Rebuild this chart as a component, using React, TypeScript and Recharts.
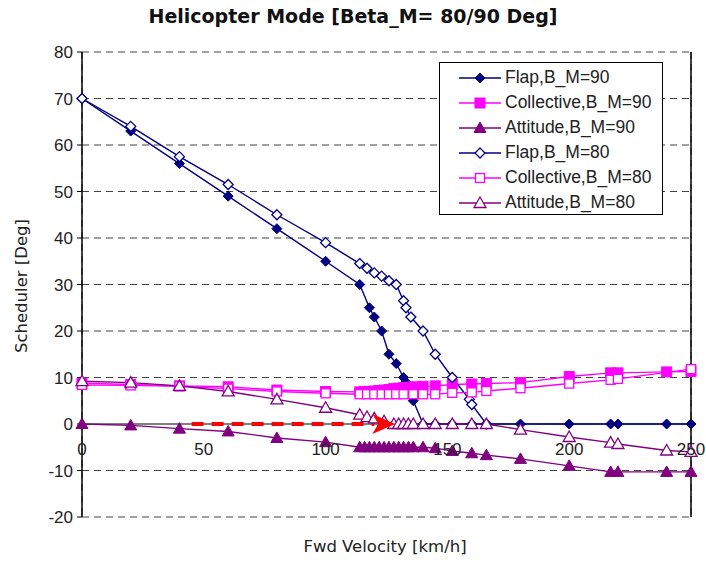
import {
  LineChart,
  Line,
  XAxis,
  YAxis,
  CartesianGrid,
  ReferenceLine,
  ReferenceDot,
  Legend,
} from "recharts";

// [speed km/h, deg]
const flap90 = [
  [0, 70], [20, 63], [40, 56], [60, 49], [80, 42], [100, 35], [114, 30], [118, 25],
  [120, 23], [123, 20], [126, 15], [129, 13], [132, 10], [133, 9], [136, 5], [140, 0],
  [145, 0], [152, 0], [160, 0], [166, 0], [180, 0], [200, 0], [217, 0], [220, 0],
  [240, 0], [250, 0],
];
const collective90 = [
  [0, 8.8], [20, 8.5], [40, 8.2], [60, 8], [80, 7.3], [100, 7], [114, 6.9], [116, 7],
  [118, 7], [120, 7.1], [122, 7.2], [124, 7.3], [126, 7.4], [128, 7.6], [130, 7.7],
  [132, 7.8], [134, 7.9], [136, 8], [140, 8.1], [145, 8.2], [152, 8.5], [160, 8.6],
  [166, 8.7], [180, 8.9], [200, 10.2], [217, 11], [220, 11], [240, 11.2], [250, 11.3],
];
const attitude90 = [
  [0, 0], [20, -0.3], [40, -1], [60, -1.6], [80, -3], [100, -3.9], [114, -5], [116, -5],
  [118, -5], [120, -5], [122, -5], [124, -5], [126, -5], [128, -5], [130, -5], [132, -5],
  [134, -5], [136, -5], [140, -5], [145, -5.2], [152, -5.8], [160, -6.3], [166, -6.7],
  [180, -7.5], [200, -9], [217, -10.3], [220, -10.3], [240, -10.3], [250, -10.3],
];
const flap80 = [
  [0, 70], [20, 64], [40, 57.5], [60, 51.5], [80, 45], [100, 39], [114, 34.5],
  [117, 33.5], [120, 32.5], [123, 31.8], [126, 30.8], [129, 30], [132, 26.5], [133, 25],
  [135, 23], [140, 20], [145, 15], [152, 10], [159, 5.3], [160, 4.2], [166, 0],
];
const collective80 = [
  [0, 8.4], [20, 8.3], [40, 8.1], [60, 7.6], [80, 7], [100, 6.6], [114, 6.4], [117, 6.4],
  [120, 6.4], [123, 6.4], [126, 6.4], [129, 6.4], [132, 6.4], [136, 6.4], [140, 6.4],
  [145, 6.4], [152, 6.7], [160, 6.8], [166, 7.1], [180, 7.7], [200, 8.7], [217, 9.5],
  [220, 9.7], [250, 11.8],
];
const attitude80 = [
  [0, 9.2], [20, 8.9], [40, 8.2], [60, 7], [80, 5.3], [100, 3.5], [114, 2], [117, 1.5],
  [120, 1.2], [124, 0.6], [128, 0], [130, 0], [132, 0], [134, 0], [136, 0], [140, 0],
  [145, 0], [152, 0], [160, 0], [166, 0], [180, -1.2], [200, -2.8], [217, -4], [220, -4.3],
  [240, -5.7], [250, -6],
];
// red dashed arrow along the zero line
const arrow = [[45, 0], [120, 0]];

const xTicks = [0, 50, 100, 150, 200, 250];
const yTicks = [-20, -10, 0, 10, 20, 30, 40, 50, 60, 70, 80];

const toPts = (arr: number[][]) => arr.map(([x, y]) => ({ x, y }));

type Shape = "diamond" | "square" | "triangle";

const series = [
  { name: "Flap,B_M=90", data: flap90, color: "#000080", shape: "diamond" as Shape, filled: true },
  { name: "Collective,B_M=90", data: collective90, color: "#FF00FF", shape: "square" as Shape, filled: true },
  { name: "Attitude,B_M=90", data: attitude90, color: "#800080", shape: "triangle" as Shape, filled: true },
  { name: "Flap,B_M=80", data: flap80, color: "#000080", shape: "diamond" as Shape, filled: false },
  { name: "Collective,B_M=80", data: collective80, color: "#FF00FF", shape: "square" as Shape, filled: false },
  { name: "Attitude,B_M=80", data: attitude80, color: "#800080", shape: "triangle" as Shape, filled: false },
];

const FONT = "'Liberation Sans', Arial, sans-serif";
const WIDE = "'DejaVu Sans', sans-serif";

function Marker({ cx, cy, shape, color, filled }: any) {
  const fill = filled ? color : "#fff";
  const sw = filled ? 1 : 1.3;
  if (shape === "diamond") {
    return (
      <path
        d={`M${cx},${cy - 5}L${cx + 5},${cy}L${cx},${cy + 5}L${cx - 5},${cy}Z`}
        fill={fill}
        stroke={color}
        strokeWidth={sw}
      />
    );
  }
  if (shape === "square") {
    const s = filled ? 5 : 4.5;
    return (
      <rect x={cx - s} y={cy - s} width={s * 2} height={s * 2} fill={fill} stroke={color} strokeWidth={sw} />
    );
  }
  return (
    <path
      d={`M${cx},${cy - 6}L${cx + 6},${cy + 4.5}L${cx - 6},${cy + 4.5}Z`}
      fill={fill}
      stroke={color}
      strokeWidth={sw}
    />
  );
}

function LegendBox() {
  return (
    <div
      style={{
        width: 224,
        height: 153,
        boxSizing: "border-box",
        border: "1px solid #000",
        background: "#fff",
        paddingTop: 2,
        fontFamily: FONT,
      }}
    >
      {series.map((s) => (
        <div key={s.name} style={{ display: "flex", alignItems: "center", height: 25 }}>
          <svg width={64} height={16} style={{ marginLeft: 12 }}>
            <line x1={7} y1={8} x2={49} y2={8} stroke={s.color} strokeWidth={1.5} />
            <Marker cx={28} cy={8} shape={s.shape} color={s.color} filled={s.filled} />
          </svg>
          <span style={{ fontSize: 17.5, color: "#222", marginLeft: -11 }}>{s.name}</span>
        </div>
      ))}
    </div>
  );
}

export default function App() {
  return (
    <div style={{ position: "absolute", left: 0, top: 0, width: 706, height: 563, background: "#fff", fontFamily: FONT }}>
      <div
        style={{
          position: "absolute",
          top: 5,
          left: 0,
          width: 706,
          textAlign: "center",
          fontSize: 19,
          fontWeight: "bold",
          fontFamily: WIDE,
          color: "#111",
        }}
      >
        Helicopter Mode [Beta_M= 80/90 Deg]
      </div>
      <LineChart
        width={706}
        height={563}
        margin={{ top: 52, right: 15, bottom: 46, left: 42 }}
        style={{ position: "absolute", left: 0, top: 0 }}
      >
        <CartesianGrid stroke="#444" strokeDasharray="7 5" />
        <XAxis
          type="number"
          dataKey="x"
          domain={[0, 250]}
          ticks={xTicks}
          tick={false}
          axisLine={false}
          tickLine={false}
          height={0}
        />
        <YAxis
          type="number"
          domain={[-20, 80]}
          ticks={yTicks}
          width={40}
          axisLine={{ stroke: "#000", strokeWidth: 1.5 }}
          tickLine={{ stroke: "#000" }}
          tickSize={5}
          tickMargin={4}
          tick={{ fontSize: 17, fill: "#222", fontFamily: FONT }}
        />
        <ReferenceLine y={0} stroke="#808080" strokeWidth={2} />
        <ReferenceLine x={250} stroke="#000" strokeWidth={1.5} />
        {xTicks.map((t) => (
          <ReferenceDot
            key={t}
            x={t}
            y={0}
            r={0}
            fill="none"
            stroke="none"
            label={{ value: t, position: "bottom", offset: 19, fontSize: 17, fill: "#222", fontFamily: FONT }}
          />
        ))}
        {series.map((s) => (
          <Line
            key={s.name}
            name={s.name}
            data={toPts(s.data)}
            dataKey="y"
            stroke={s.color}
            strokeWidth={1.4}
            isAnimationActive={false}
            dot={(p: any) => (
              <Marker key={`${s.name}-${p.index}`} cx={p.cx} cy={p.cy} shape={s.shape} color={s.color} filled={s.filled} />
            )}
          />
        ))}
        <Line
          data={toPts(arrow)}
          dataKey="y"
          stroke="#FF0000"
          strokeWidth={4}
          strokeDasharray="12 8"
          legendType="none"
          isAnimationActive={false}
          dot={(p: any) =>
            p.index === arrow.length - 1 ? (
              <path
                key="arrowhead"
                d={`M${p.cx - 2},${p.cy - 10}L${p.cx + 21},${p.cy}L${p.cx - 2},${p.cy + 10}L${p.cx + 4},${p.cy}Z`}
                fill="#FF0000"
              />
            ) : (
              <g key={`a${p.index}`} />
            )
          }
        />
        <Legend
          layout="horizontal"
          verticalAlign="middle"
          align="center"
          content={() => <LegendBox />}
          wrapperStyle={{ left: 439, top: 62, width: 224, height: 153 }}
        />
      </LineChart>
      <div
        style={{
          position: "absolute",
          top: 537,
          left: 235,
          width: 300,
          textAlign: "center",
          fontSize: 16.5,
          fontFamily: WIDE,
          color: "#222",
        }}
      >
        Fwd Velocity [km/h]
      </div>
      <div
        style={{
          position: "absolute",
          left: 22 - 100,
          top: 286 - 11,
          width: 200,
          height: 22,
          lineHeight: "22px",
          textAlign: "center",
          fontSize: 16.5,
          fontFamily: WIDE,
          color: "#222",
          transform: "rotate(-90deg)",
        }}
      >
        Scheduler [Deg]
      </div>
    </div>
  );
}
